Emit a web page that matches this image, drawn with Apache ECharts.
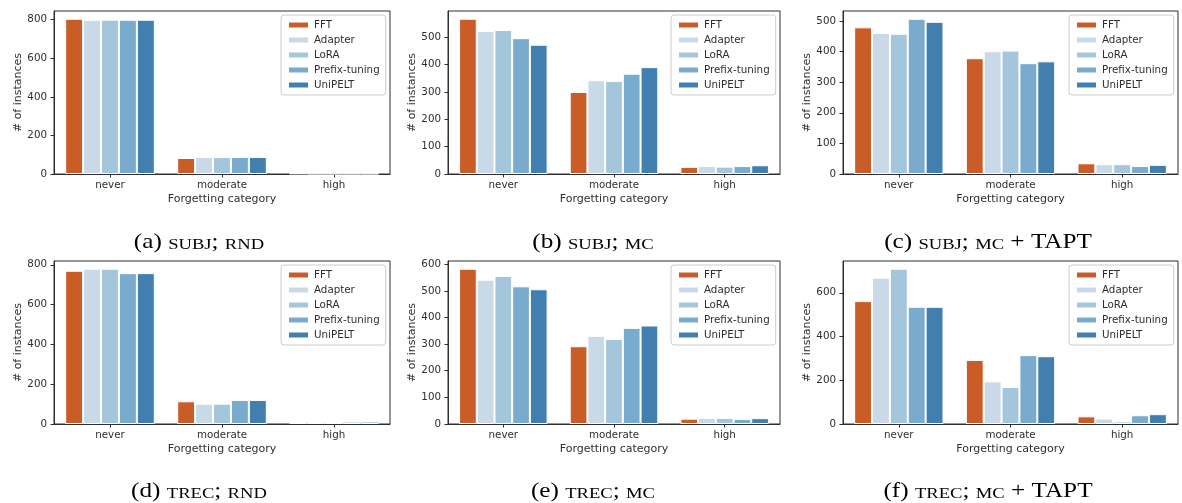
<!DOCTYPE html>
<html>
<head>
<meta charset="utf-8">
<script src="https://cdn.jsdelivr.net/npm/echarts@6/dist/echarts.min.js"></script>
<style>
html,body{margin:0;padding:0;background:#fff;}
#chart{width:1182px;height:503px;}
</style>
</head>
<body>
<div id="chart"></div>
<script>
// ---- data ----
const categories = ['never', 'moderate', 'high'];
const methods = ['FFT', 'Adapter', 'LoRA', 'Prefix-tuning', 'UniPELT'];

// rows: FFT, Adapter, LoRA, Prefix-tuning, UniPELT ; columns: never, moderate, high
const subjRnd  = [[805, 83, 3], [800, 88, 1], [800, 88, 1], [800, 88, 1], [800, 88, 1]];
const subjMc   = [[568, 300, 26], [523, 343, 29], [527, 340, 27], [497, 367, 29], [473, 391, 32]];
const subjTapt = [[479, 378, 35], [461, 401, 32], [458, 403, 32], [507, 362, 26], [497, 368, 30]];
const trecRnd  = [[770, 114, 10], [780, 102, 7], [780, 102, 7], [758, 121, 12], [758, 121, 12]];
const trecMc   = [[583, 292, 20], [542, 331, 23], [556, 319, 23], [517, 361, 19], [506, 370, 22]];
const trecTapt = [[562, 293, 35], [669, 195, 25], [710, 169, 12], [536, 315, 40], [536, 310, 45]];

const ticksA = [0, 200, 400, 600, 800];
const ticksB = [0, 100, 200, 300, 400, 500];
const ticksC = [0, 100, 200, 300, 400, 500];
const ticksD = [0, 200, 400, 600, 800];
const ticksE = [0, 100, 200, 300, 400, 500, 600];
const ticksF = [0, 200, 400, 600];

const captionLetters = ['(a)', '(b)', '(c)', '(d)', '(e)', '(f)'];
const captionDatasets = ['SUBJ', 'SUBJ', 'SUBJ', 'TREC', 'TREC', 'TREC'];
const captionSettings = ['RND', 'MC', 'MC', 'RND', 'MC', 'MC'];
const captionExtras = ['', '', '+ TAPT', '', '', '+ TAPT'];

// ---- style / layout ----
const panels = [subjRnd, subjMc, subjTapt, trecRnd, trecMc, trecTapt];
const panelTicks = [ticksA, ticksB, ticksC, ticksD, ticksE, ticksF];
const colors = ['#ca5c28', '#cad9e8', '#a4c6dc', '#78abcd', '#407fb0'];
const grids = [
  {left: 54,  top: 11,  width: 336, height: 163},
  {left: 448, top: 11,  width: 332, height: 163},
  {left: 843, top: 11,  width: 335, height: 163},
  {left: 54,  top: 261, width: 336, height: 163},
  {left: 448, top: 261, width: 332, height: 163},
  {left: 843, top: 261, width: 335, height: 163}
];
const captionX = [199, 593, 988, 199, 593, 988];
const captionY = [241, 241, 241, 490, 490, 490];

const tickFont = 'DejaVu Sans';
const ink = '#2e2e2e';

const option = {
  animation: false,
  backgroundColor: '#ffffff',
  grid: grids.map(g => Object.assign({show: true, borderColor: ink, borderWidth: 1, containLabel: false}, g)),
  xAxis: grids.map((g, i) => ({
    type: 'category', gridIndex: i, data: categories,
    axisLine: {show: true, lineStyle: {color: ink, width: 1}},
    axisTick: {show: true, alignWithLabel: true, length: 3.5, lineStyle: {color: ink}},
    axisLabel: {fontFamily: tickFont, fontSize: 10.3, color: ink, margin: 6},
    name: 'Forgetting category', nameLocation: 'middle', nameGap: 20,
    nameTextStyle: {fontFamily: tickFont, fontSize: 11, color: ink},
    splitLine: {show: false}
  })),
  yAxis: grids.map((g, i) => {
    const maxVal = Math.max(...panels[i].map(r => Math.max(...r))) * 1.05;
    return {
      type: 'value', gridIndex: i, min: 0, max: maxVal,
      axisLine: {show: true, lineStyle: {color: ink, width: 1}},
      axisTick: {show: true, length: 3.5, lineStyle: {color: ink}, customValues: panelTicks[i]},
      axisLabel: {fontFamily: tickFont, fontSize: 10.3, color: ink, margin: 7, customValues: panelTicks[i]},
      splitLine: {show: false},
      name: '# of instances', nameLocation: 'middle', nameGap: 30, nameRotate: 90,
      nameTextStyle: {fontFamily: tickFont, fontSize: 11, color: ink}
    };
  }),
  legend: grids.map((g, i) => ({
    data: methods, orient: 'vertical',
    left: g.left + g.width - 109, top: g.top + 4,
    itemWidth: 21, itemHeight: 7, itemGap: 5,
    icon: 'rect',
    textStyle: {fontFamily: tickFont, fontSize: 10.3, color: ink},
    backgroundColor: 'rgba(255,255,255,0.8)',
    borderColor: '#cccccc', borderWidth: 1, borderRadius: 3,
    padding: [5, 6, 5, 6],
    selectedMode: false
  })),
  series: [],
  graphic: []
};

panels.forEach((vals, p) => {
  methods.forEach((m, k) => {
    option.series.push({
      type: 'bar', name: m, xAxisIndex: p, yAxisIndex: p,
      data: vals[k],
      barGap: '0%', barCategoryGap: '20%',
      itemStyle: {color: colors[k], borderColor: '#ffffff', borderWidth: 1},
      emphasis: {disabled: true}
    });
  });
});

const serif = '"Liberation Serif", "DejaVu Serif", serif';
captionLetters.forEach((c, i) => {
  let txt = '{n|' + c + ' }{s|' + captionDatasets[i] + '}{n|; }{s|' + captionSettings[i] + '}';
  if (captionExtras[i]) txt += '{n| ' + captionExtras[i] + '}';
  option.graphic.push({
    type: 'text', x: captionX[i], y: captionY[i], scaleX: 1.2,
    style: {
      text: txt, align: 'center', verticalAlign: 'middle',
      rich: {
        n: {fontFamily: serif, fontSize: 21, fill: '#000', verticalAlign: 'bottom', lineHeight: 24},
        s: {fontFamily: serif, fontSize: 15.5, fill: '#000', verticalAlign: 'bottom', lineHeight: 24}
      }
    }
  });
});

const chart = echarts.init(document.getElementById('chart'), null, {renderer: 'canvas'});
chart.setOption(option);
</script>
</body>
</html>
